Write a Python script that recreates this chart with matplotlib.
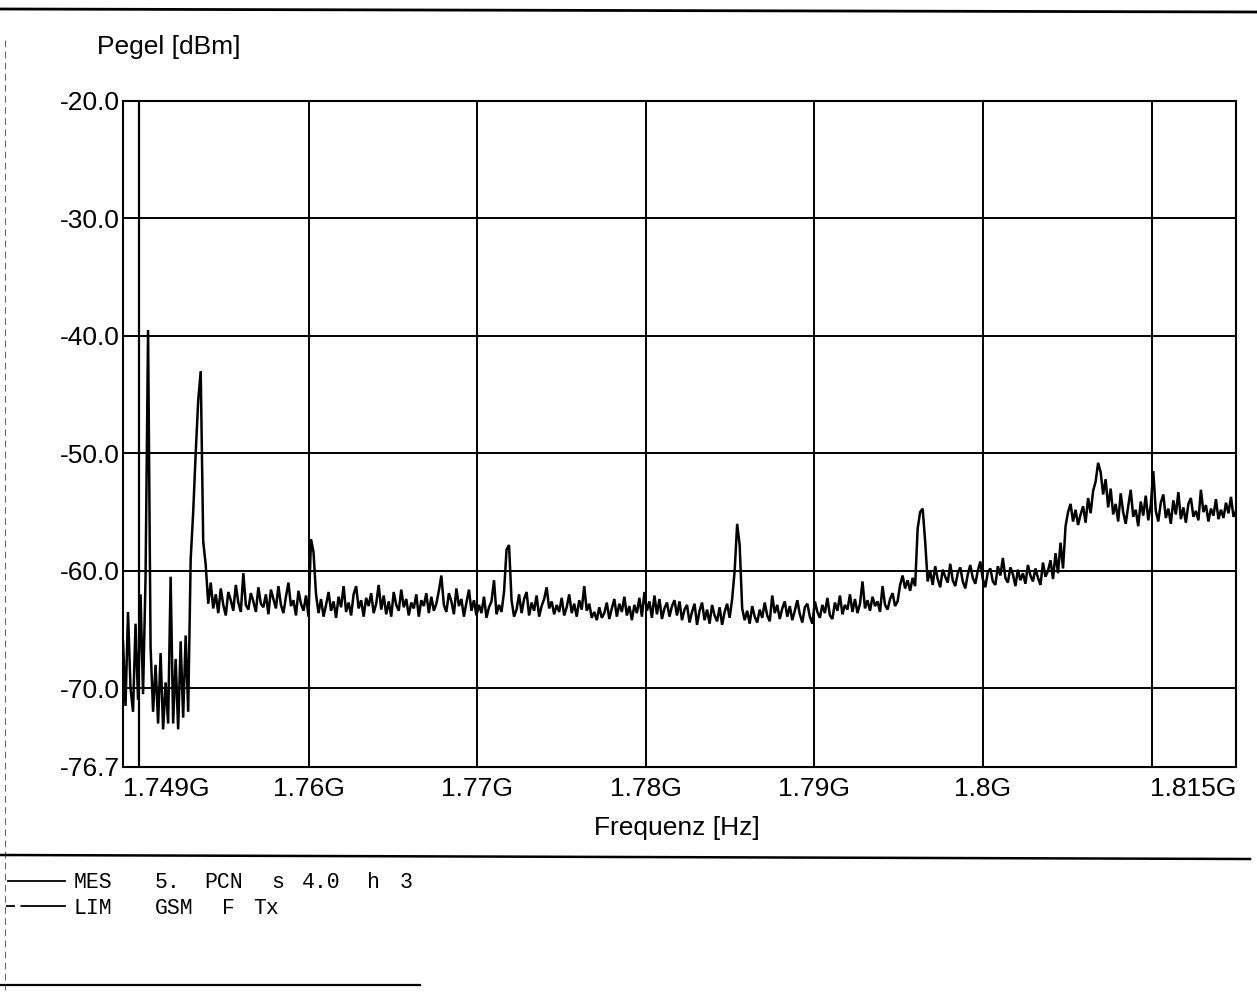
import numpy as np
import matplotlib
matplotlib.use("Agg")
import matplotlib.pyplot as plt
from matplotlib.lines import Line2D

# ---------------- data ----------------
freq_start_mhz = 1749.0
freq_stop_mhz = 1815.0

level_dbm = [
    -66.0, -71.5, -63.5, -70.0, -72.0, -64.5, -71.0, -62.0, -70.5, -60.5,
    -39.5, -66.5, -72.0, -68.0, -73.0, -67.0, -73.5, -69.5, -73.0, -60.5,
    -73.0, -67.5, -73.5, -66.0, -72.5, -65.5, -72.0, -59.0, -55.0, -50.0,
    -45.5, -43.0, -57.5, -59.5, -62.8, -61.0, -63.2, -62.0, -63.6, -61.5,
    -62.9, -63.8, -61.8, -62.5, -63.4, -61.2, -62.7, -63.5, -60.2, -62.9,
    -63.3, -61.9, -62.6, -63.5, -61.4, -62.8, -63.1, -62.0, -63.7, -61.6,
    -62.4, -63.2, -61.3, -62.9, -63.6, -62.2, -61.0, -63.0, -62.5, -63.8,
    -61.7, -62.8, -63.4, -62.1, -63.9, -57.3, -58.4, -62.0, -63.6, -62.4,
    -63.9, -62.9, -61.8, -63.4, -62.6, -64.0, -62.2, -63.1, -61.3, -63.5,
    -62.7, -63.8, -62.0, -61.3, -63.2, -62.5, -63.9, -62.3, -63.0, -61.9,
    -63.6, -62.8, -61.2, -63.3, -62.1, -63.7, -62.6, -63.9, -61.8, -62.9,
    -63.4, -61.6, -63.1, -62.4, -63.8, -62.7, -63.2, -62.0, -63.9, -62.5,
    -63.0, -61.9, -63.6, -62.2, -63.4, -62.8, -61.7, -60.4, -62.9, -63.5,
    -61.9, -62.6, -63.7, -61.5, -63.0, -62.4, -63.9, -62.7, -61.6, -63.4,
    -62.5, -63.8, -62.9, -63.6, -62.2, -64.0, -63.1, -62.6, -60.8, -63.7,
    -62.9, -63.5, -61.8, -58.2, -57.8, -62.5, -63.9, -63.3, -62.0, -63.6,
    -62.4, -61.8, -63.8, -62.7, -63.4, -62.1, -63.9, -63.0, -62.4, -61.4,
    -63.2, -62.6, -63.7, -62.9, -63.5, -62.3, -63.8, -63.1, -62.0, -63.6,
    -62.8, -63.9, -62.5, -63.3, -61.3, -63.4, -62.8, -64.0, -63.5, -64.2,
    -63.1, -64.0, -63.6, -62.7, -64.1, -63.2, -62.4, -63.9, -62.8, -63.5,
    -62.2, -63.8, -63.0, -64.2, -62.9, -63.6, -62.3, -63.9, -61.8, -63.4,
    -62.6, -64.0, -62.1, -63.7, -62.4, -64.1, -63.2, -62.7, -63.9, -63.0,
    -62.5, -63.8, -62.6, -64.2, -63.3, -62.9, -64.4, -63.5, -62.8, -64.6,
    -63.4, -62.7, -64.2, -63.3, -64.5, -62.9, -63.8, -64.3, -63.1, -64.6,
    -63.5, -62.8, -64.0, -62.4, -60.0, -56.0, -57.8, -63.2, -64.2, -63.4,
    -64.5, -63.0, -63.9, -64.4, -63.3, -64.0, -62.7, -63.8, -64.3, -62.1,
    -63.6, -62.9, -64.1, -63.2, -62.6, -63.9, -63.0, -64.2, -63.4, -62.5,
    -63.7, -64.4, -63.1, -62.8, -63.9, -64.5, -62.6, -63.5, -64.0, -62.9,
    -63.6, -62.3, -63.8, -64.1, -62.7, -63.4, -62.1, -63.7, -62.9, -63.3,
    -62.0, -63.5, -62.4, -63.6, -62.8, -60.9, -63.2, -62.5, -63.4, -62.2,
    -63.0, -62.6, -63.5, -61.3, -62.9, -63.3, -62.4, -61.9, -63.0, -62.6,
    -61.2, -60.4, -61.5, -60.8, -61.7, -60.6, -61.3, -56.4, -55.0, -54.7,
    -57.5, -60.9, -60.0, -61.2, -59.6, -60.7, -61.4, -59.9, -60.5, -61.0,
    -59.4, -60.8, -61.3, -60.2, -59.7, -60.9, -61.5, -60.3, -59.5, -60.6,
    -61.1, -60.0, -59.2, -60.7, -61.4, -60.1, -59.8, -60.9, -61.2, -59.6,
    -60.4, -58.9, -60.6, -61.0, -59.7, -60.3, -61.3, -59.9, -60.8, -60.2,
    -61.1, -59.5, -60.4, -60.9, -59.8, -60.6, -61.2, -59.3, -60.5, -60.0,
    -59.1, -60.7, -58.5, -60.2, -57.6, -59.8, -56.2, -55.0, -54.3, -55.8,
    -54.8, -56.1, -55.2, -54.5, -55.9, -53.8, -55.1, -53.2, -52.4, -50.8,
    -51.6, -53.5, -52.2, -54.6, -53.0, -55.2, -54.3, -55.8, -53.4, -55.0,
    -56.0, -54.5, -53.1, -55.4, -54.8, -56.2, -54.1, -55.3, -53.6, -55.7,
    -54.4, -51.5, -54.9, -55.8, -54.2, -53.5, -55.5, -54.7, -56.0, -54.0,
    -55.2, -53.3, -55.6, -54.6, -55.9, -54.3, -53.8, -55.4, -54.9, -55.7,
    -53.1, -55.0, -54.4, -55.8, -54.7, -55.3, -53.9, -55.6, -54.8, -55.5,
    -54.2, -55.1, -53.7, -55.4, -54.9,
]

marker_freq_mhz = [1749.95]

y_min, y_max = -76.7, -20.0
y_ticks = [-76.7, -70.0, -60.0, -50.0, -40.0, -30.0, -20.0]
y_tick_labels = ["-76.7", "-70.0", "-60.0", "-50.0", "-40.0", "-30.0", "-20.0"]
y_grid = [-70.0, -60.0, -50.0, -40.0, -30.0]

x_ticks = [1749.0, 1760.0, 1770.0, 1780.0, 1790.0, 1800.0, 1815.0]
x_tick_labels = ["1.749G", "1.76G", "1.77G", "1.78G", "1.79G", "1.8G", "1.815G"]
x_grid = [1760.0, 1770.0, 1780.0, 1790.0, 1800.0, 1810.0]

y_label = "Pegel [dBm]"
x_label = "Frequenz [Hz]"

legend_names = ["MES", "LIM"]
legend_texts = ["5. PCN s 4.0 h 3", "GSM F Tx"]

# ---------------- figure ----------------
W, H = 1257, 994
fig = plt.figure(figsize=(W / 100, H / 100), dpi=100)
fig.patch.set_facecolor("white")


def fx(px):
    return px / W


def fy(py):
    return 1 - py / H


ax_left, ax_right, ax_top, ax_bottom = 123, 1236, 101, 767
ax = fig.add_axes([fx(ax_left), fy(ax_bottom), fx(ax_right - ax_left), (ax_bottom - ax_top) / H])

sans = ["Liberation Sans", "DejaVu Sans"]
mono = ["Liberation Mono", "DejaVu Sans Mono"]
fs = 19

freqs = np.linspace(freq_start_mhz, freq_stop_mhz, len(level_dbm))

for g in x_grid:
    ax.axvline(g, color="black", lw=1.4, zorder=1)
for g in y_grid:
    ax.axhline(g, color="black", lw=1.4, zorder=1)

for m in marker_freq_mhz:
    ax.axvline(m, color="black", lw=1.6, zorder=2)

ax.plot(freqs, level_dbm, color="black", lw=1.8, zorder=3, solid_joinstyle="miter")

ax.set_xlim(freq_start_mhz, freq_stop_mhz)
ax.set_ylim(y_min, y_max)
ax.set_xticks(x_ticks)
ax.set_xticklabels(x_tick_labels, fontfamily=sans, fontsize=fs)
ax.set_yticks(y_ticks)
ax.set_yticklabels(y_tick_labels, fontfamily=sans, fontsize=fs)
ax.tick_params(axis="both", length=0)
ax.tick_params(axis="x", pad=7)
ax.tick_params(axis="y", pad=2)
xl = ax.get_xticklabels()
xl[0].set_ha("left")
xl[-1].set_ha("right")
for s in ax.spines.values():
    s.set_linewidth(1.5)
    s.set_color("black")

fig.text(fx(97), fy(47), y_label, fontfamily=sans, fontsize=fs, ha="left", va="center")
fig.text(fx(677), fy(828), x_label, fontfamily=sans, fontsize=fs, ha="center", va="center")

# page frame lines
fig.add_artist(Line2D([fx(0), fx(W)], [fy(9), fy(12)], color="black", lw=2.0))
fig.add_artist(Line2D([fx(0), fx(1250)], [fy(855), fy(859)], color="black", lw=1.8))
fig.add_artist(Line2D([fx(0), fx(420)], [fy(985), fy(985)], color="black", lw=1.6))
fig.add_artist(Line2D([fx(5), fx(5)], [fy(40), fy(990)], color="black", lw=0.8,
                      ls=(0, (6, 4)), alpha=0.6))

rows_y = [883, 908]
word_x = [[155, 204, 271, 302, 367, 400], [155, 222, 253]]
for r, (name, txt) in enumerate(zip(legend_names, legend_texts)):
    y = rows_y[r]
    if r == 0:
        fig.add_artist(Line2D([fx(8), fx(65)], [fy(y - 2), fy(y - 2)], color="black", lw=1.3))
    else:
        fig.add_artist(Line2D([fx(6), fx(26)], [fy(y - 2), fy(y - 2)], color="black", lw=1.3,
                              ls=(0, (5, 3))))
        fig.add_artist(Line2D([fx(26), fx(65)], [fy(y - 2), fy(y - 2)], color="black", lw=1.3))
    fig.text(fx(74), fy(y), name, fontfamily=mono, fontsize=15.5, ha="left", va="center")
    for word, px in zip(txt.split(" "), word_x[r]):
        fig.text(fx(px), fy(y), word, fontfamily=mono, fontsize=15.5, ha="left", va="center")

fig.savefig("out.png", dpi=100, facecolor="white")
